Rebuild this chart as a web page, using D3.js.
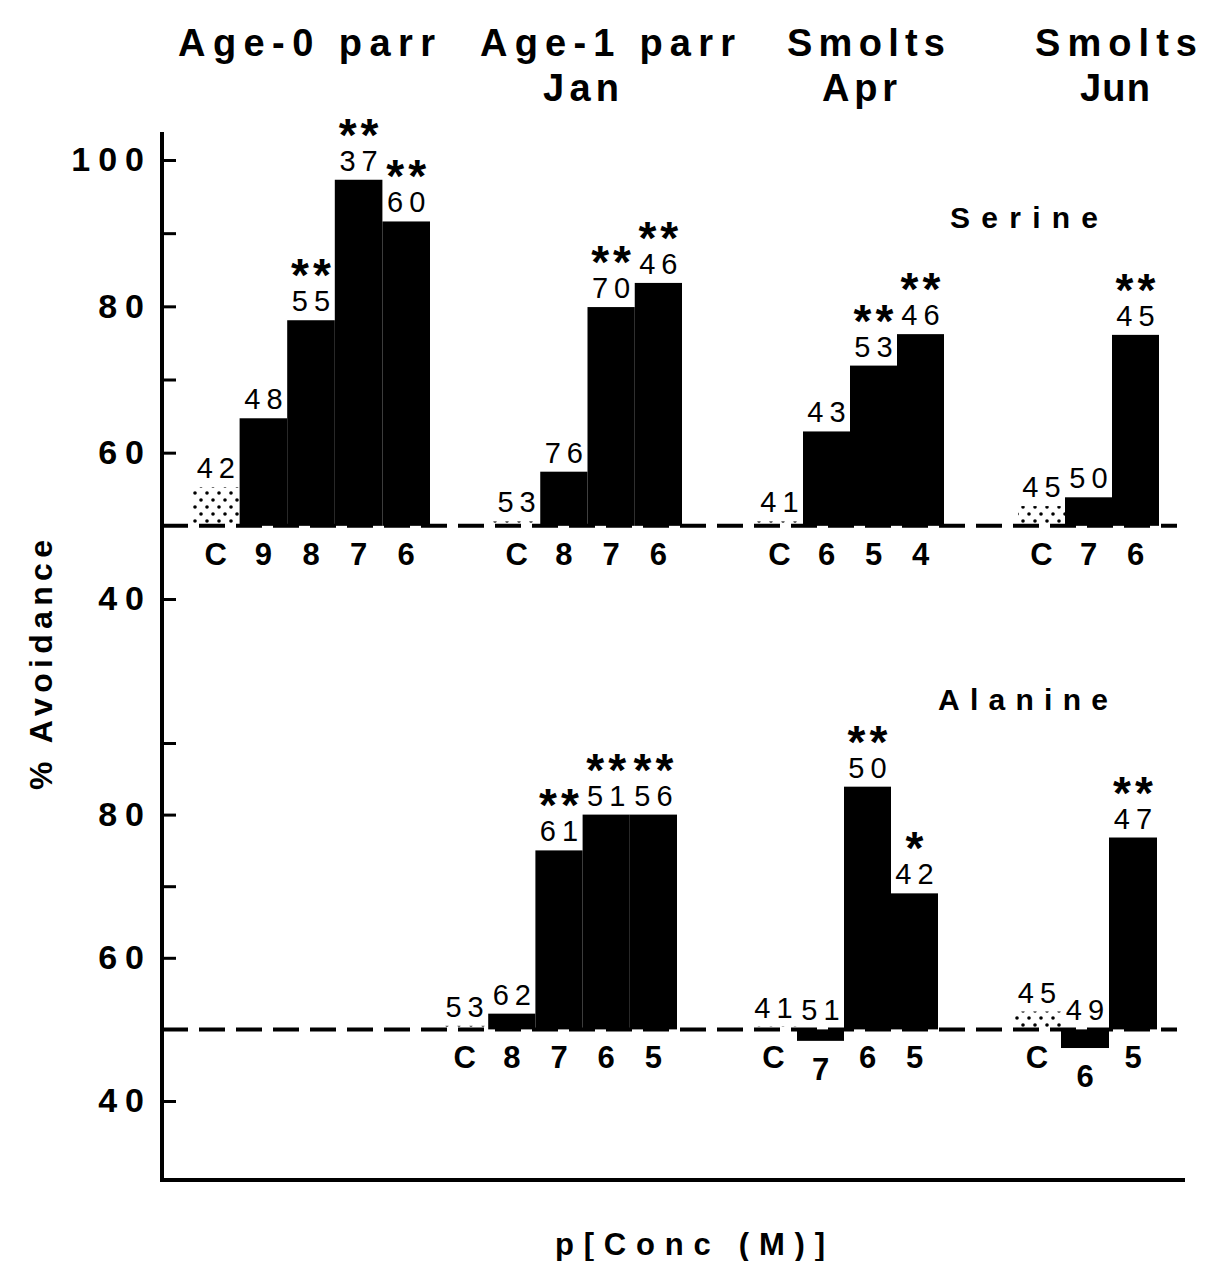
<!DOCTYPE html>
<html>
<head>
<meta charset="utf-8">
<script src="https://cdn.jsdelivr.net/npm/d3@7"></script>
<style>
body { margin: 0; background: #fff; }
svg { display: block; }
text { font-family: "Liberation Sans", Arial, sans-serif; fill: #000; }
</style>
</head>
<body>
<svg id="chart" width="1207" height="1261"></svg>
<script>
// column headings (life stage / month)
var groupTitles = [["Age-0 parr"], ["Age-1 parr", "Jan"], ["Smolts", "Apr"], ["Smolts", "Jun"]];

// Serine: concentration (p[M]), % avoidance, n, significance
var serineConc = [["C", "9", "8", "7", "6"], ["C", "8", "7", "6"], ["C", "6", "5", "4"], ["C", "7", "6"]];
var serineValues = [[55.3, 64.7, 78.1, 97.3, 91.6], [50.6, 57.4, 79.9, 83.2], [50.6, 62.9, 71.9, 76.2], [52.7, 53.9, 76.1]];
var serineN = [[42, 48, 55, 37, 60], [53, 76, 70, 46], [41, 43, 53, 46], [45, 50, 45]];
var serineSig = [["", "", "**", "**", "**"], ["", "", "**", "**"], ["", "", "**", "**"], ["", "", "**"]];

// Alanine (no age-0 parr data)
var alanineConc = [[], ["C", "8", "7", "6", "5"], ["C", "7", "6", "5"], ["C", "6", "5"]];
var alanineValues = [[], [50.5, 52.2, 75.0, 80.0, 80.0], [50.4, 48.4, 83.9, 69.0], [52.5, 47.4, 76.8]];
var alanineN = [[], [53, 62, 61, 51, 56], [41, 51, 50, 42], [45, 49, 47]];
var alanineSig = [[], ["", "", "**", "**", "**"], ["", "", "**", "*"], ["", "", "**"]];

var svg = d3.select("#chart");
var axisX = 162;

var defs = svg.append("defs");
var pat = defs.append("pattern").attr("id", "dots").attr("patternUnits", "userSpaceOnUse")
    .attr("width", 12).attr("height", 14);
pat.append("circle").attr("cx", 3).attr("cy", 3).attr("r", 1.8).attr("fill", "#000");
pat.append("circle").attr("cx", 9).attr("cy", 10).attr("r", 1.8).attr("fill", "#000");

var yTop = d3.scaleLinear().domain([40, 100]).range([599, 160]);
var yBot = d3.scaleLinear().domain([40, 90]).range([1101, 743]);

var panels = [
    { name: "Serine", y: yTop, conc: serineConc, values: serineValues, n: serineN, sig: serineSig,
      ranges: [[192, 430], [493, 682], [756, 944], [1018, 1159]], ticks: [40, 60, 70, 80, 90, 100],
      label: [1024, 228], labelLen: 148 },
    { name: "Alanine", y: yBot, conc: alanineConc, values: alanineValues, n: alanineN, sig: alanineSig,
      ranges: [null, [441, 677], [750, 938], [1013, 1157]], ticks: [40, 60, 70, 80, 90],
      label: [1023, 710], labelLen: 170 }
];

panels.forEach(function(p) {
    var y = p.y, y50 = y(50);

    // dashed 50% line
    svg.append("line").attr("x1", axisX).attr("x2", 1177).attr("y1", y50).attr("y2", y50)
        .attr("stroke", "#000").attr("stroke-width", 4).attr("stroke-dasharray", "26,11");

    // y axis ticks pointing inward
    var axis = d3.axisLeft(y).tickValues(p.ticks).tickSizeInner(-14).tickSizeOuter(0).tickPadding(10)
        .tickFormat(function(d) { return d % 20 == 0 ? d : ""; });
    var ax = svg.append("g").attr("transform", "translate(" + axisX + ",0)").call(axis);
    ax.select(".domain").remove();
    ax.selectAll(".tick line").attr("stroke", "#000").attr("stroke-width", 3);
    ax.selectAll(".tick text").attr("font-size", 34).attr("font-weight", "bold")
        .attr("letter-spacing", 8).attr("font-family", "Liberation Sans, Arial, sans-serif");

    p.ranges.forEach(function(r, g) {
        if (!r) return;
        var x = d3.scaleBand().domain(p.conc[g]).range(r).padding(0);
        var rows = p.conc[g].map(function(c, i) {
            return { c: c, v: p.values[g][i], n: p.n[g][i], s: p.sig[g][i] };
        });
        var gg = svg.append("g");

        gg.selectAll("rect").data(rows).enter().append("rect")
            .attr("x", function(d) { return x(d.c); })
            .attr("width", x.bandwidth())
            .attr("y", function(d) { return Math.min(y(d.v), y50); })
            .attr("height", function(d) { return Math.abs(y(d.v) - y50); })
            .attr("fill", function(d) { return d.c == "C" ? "url(#dots)" : "#000"; });

        // sample sizes
        gg.selectAll(".n").data(rows).enter().append("text").attr("class", "n")
            .attr("x", function(d) { return x(d.c) + x.bandwidth() / 2 + 3; })
            .attr("y", function(d) { return Math.min(y(d.v), y50) - 9; })
            .attr("text-anchor", "middle").attr("font-size", 29).attr("letter-spacing", 6)
            .text(function(d) { return d.n; });

        // significance stars
        gg.selectAll(".s").data(rows).enter().append("text").attr("class", "s")
            .attr("x", function(d) { return x(d.c) + x.bandwidth() / 2 + 2; })
            .attr("y", function(d) { return Math.min(y(d.v), y50) - 29; })
            .attr("text-anchor", "middle").attr("font-size", 46).attr("font-weight", "bold")
            .attr("letter-spacing", 4)
            .text(function(d) { return d.s; });

        // concentration labels
        gg.selectAll(".c").data(rows).enter().append("text").attr("class", "c")
            .attr("x", function(d) { return x(d.c) + x.bandwidth() / 2; })
            .attr("y", function(d) { return Math.max(y(d.v), y50) + 39; })
            .attr("text-anchor", "middle").attr("font-size", 31).attr("font-weight", "bold")
            .text(function(d) { return d.c; });
    });

    svg.append("text").attr("x", p.label[0]).attr("y", p.label[1]).attr("text-anchor", "middle")
        .attr("font-size", 30).attr("font-weight", "bold")
        .attr("textLength", p.labelLen).attr("lengthAdjust", "spacing")
        .text(p.name);
});

// axis frame
svg.append("line").attr("x1", axisX).attr("x2", axisX).attr("y1", 132).attr("y2", 1181)
    .attr("stroke", "#000").attr("stroke-width", 4);
svg.append("line").attr("x1", axisX - 2).attr("x2", 1185).attr("y1", 1180).attr("y2", 1180)
    .attr("stroke", "#000").attr("stroke-width", 4);

// column headings
var titlePos = [[[178, 435]], [[480, 735], [543, 619]], [[787, 945], [822, 897]], [[1035, 1197], [1080, 1150]]];
var titleY = [56, 101];
groupTitles.forEach(function(lines, g) {
    lines.forEach(function(t, k) {
        var r = titlePos[g][k];
        svg.append("text").attr("x", r[0]).attr("y", titleY[k])
            .attr("font-size", 38).attr("font-weight", "bold")
            .attr("textLength", r[1] - r[0]).attr("lengthAdjust", "spacing")
            .text(t);
    });
});

svg.append("text").attr("transform", "translate(52,665) rotate(-90)").attr("text-anchor", "middle")
    .attr("font-size", 32).attr("font-weight", "bold")
    .attr("textLength", 250).attr("lengthAdjust", "spacing")
    .text("% Avoidance");

svg.append("text").attr("x", 690).attr("y", 1255).attr("text-anchor", "middle")
    .attr("font-size", 31).attr("font-weight", "bold")
    .attr("textLength", 270).attr("lengthAdjust", "spacing")
    .text("p[Conc (M)]");
</script>
</body>
</html>
